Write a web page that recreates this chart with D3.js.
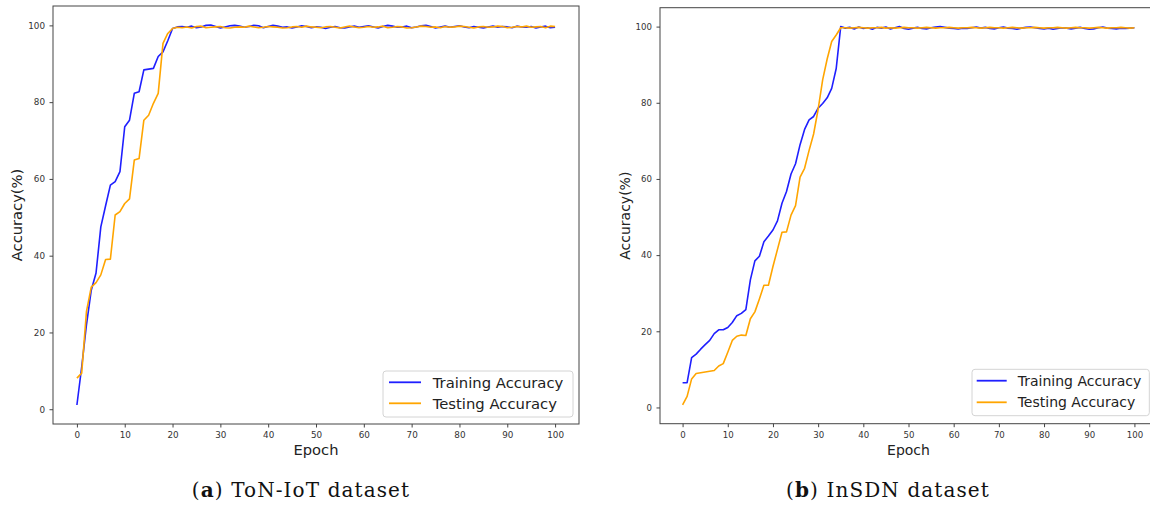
<!DOCTYPE html>
<html><head><meta charset="utf-8">
<script src="https://cdn.jsdelivr.net/npm/d3@7"></script>
<style>body{margin:0;background:#fff}svg{display:block}</style>
</head><body>
<svg id="c" width="1150" height="507"></svg>
<script>
const epochs = d3.range(0, 101);
const xTicks = [0, 10, 20, 30, 40, 50, 60, 70, 80, 90, 100];
const yTicks = [0, 20, 40, 60, 80, 100];
const seriesNames = ["Training Accuracy", "Testing Accuracy"];
const seriesColors = ["#1f1fff", "#ffa500"];
const xLabel = "Epoch";
const yLabel = "Accuracy(%)";

// (a) ToN-IoT dataset
const tonTrain = [1.1, 11, 22, 31, 35.5, 47.5, 53, 58.4, 59.3, 61.9, 73.6, 75.3, 82.3, 82.7, 88.4, 88.6, 88.8, 91.9, 93.1, 96.0, 99.2,
  99.6, 99.7, 99.5, 99.8, 99.4, 99.6, 100.0, 100.1, 99.7, 99.3,
  99.6, 99.9, 100.0, 99.8, 99.5, 99.7, 100.0, 99.9, 99.4, 99.7,
  100.0, 99.8, 99.5, 99.6, 99.3, 99.6, 99.9, 99.7, 99.4, 99.6,
  99.5, 99.2, 99.5, 99.7, 99.4, 99.3, 99.6, 99.8, 99.5, 99.7,
  99.9, 99.6, 99.3, 99.7, 100.0, 99.8, 99.5, 99.6, 99.8, 99.4,
  99.6, 99.9, 100.0, 99.7, 99.3, 99.6, 99.8, 99.5, 99.7, 99.9,
  99.6, 99.4, 99.7, 99.5, 99.3, 99.6, 99.8, 99.5, 99.7, 99.6,
  99.4, 99.8, 99.6, 99.5, 99.7, 99.3, 99.6, 99.8, 99.4, 99.5];
const tonTest = [8.1, 9.4, 25.5, 31.8, 33.0, 35, 39.0, 39.1, 50.6, 51.5, 53.6, 54.8, 64.9, 65.3, 75.3, 76.6, 79.7, 82.3, 95.3, 97.9, 99.2,
  99.5, 99.4, 99.6, 99.3, 99.7, 99.8, 99.4, 99.5, 99.6, 99.7,
  99.4, 99.3, 99.5, 99.6, 99.5, 99.8, 99.6, 99.4, 99.5, 99.7,
  99.6, 99.5, 99.3, 99.4, 99.6, 99.7, 99.5, 99.8, 99.6, 99.5,
  99.4, 99.6, 99.7, 99.5, 99.3, 99.6, 99.8, 99.6, 99.4, 99.5,
  99.7, 99.5, 99.6, 99.8, 99.4, 99.5, 99.7, 99.6, 99.3, 99.4,
  99.6, 99.8, 99.7, 99.5, 99.6, 99.4, 99.7, 99.5, 99.6, 99.8,
  99.7, 99.5, 99.3, 99.6, 99.7, 99.5, 99.6, 99.8, 99.7, 99.4,
  99.5, 99.7, 99.6, 99.8, 99.5, 99.6, 99.7, 99.4, 99.8, 99.7];

// (b) InSDN dataset
const insTrain = [6.5, 6.5, 13.1, 14.0, 15.3, 16.5, 17.6, 19.4, 20.4, 20.4, 21.0, 22.3, 24.1, 24.7, 25.7, 33.5, 38.5, 39.7, 43.5, 45.0,
  46.6, 49.0, 53.6, 56.7, 61.3, 64.0, 69.0, 73.0, 75.5, 76.4, 78.6, 79.8, 81.3, 83.8, 89.0, 100.0,
  99.6, 99.8, 99.4, 99.9, 99.5, 99.7, 99.3, 99.8, 99.6, 99.9,
  99.4, 99.7, 100.0, 99.5, 99.3, 99.6, 99.8, 99.5, 99.4, 99.7,
  99.9, 100.0, 99.8, 99.6, 99.5, 99.4, 99.6, 99.5, 99.7, 99.9,
  99.6, 99.8, 99.5, 99.4, 99.7, 99.9, 99.6, 99.5, 99.3, 99.6,
  99.8, 99.9, 99.7, 99.5, 99.4, 99.6, 99.3, 99.5, 99.7, 99.6,
  99.4, 99.6, 99.8, 99.5, 99.3, 99.4, 99.7, 99.9, 99.6, 99.5,
  99.4, 99.6, 99.5, 99.6, 99.7];
const insTest = [0.7, 2.9, 7.5, 8.9, 9.1, 9.3, 9.5, 9.7, 10.9, 11.5, 14.5, 17.6, 18.7, 19.0, 18.9, 23.3, 25.1, 28.5, 32.1, 32.1,
  37.0, 41.5, 46.0, 46.1, 50.5, 53.0, 60.5, 62.8, 67.5, 71.8, 78.3, 86.0, 91.5, 96.1, 97.8, 99.7,
  99.7, 99.6, 99.7, 99.8, 99.7, 99.6, 99.7, 99.7, 99.8, 99.6,
  99.7, 99.6, 99.7, 99.8, 99.7, 99.7, 99.6, 99.7, 99.8, 99.7,
  99.6, 99.7, 99.7, 99.8, 99.7, 99.6, 99.7, 99.7, 99.8, 99.7,
  99.6, 99.7, 99.8, 99.7, 99.7, 99.6, 99.7, 99.8, 99.7, 99.6,
  99.7, 99.7, 99.8, 99.7, 99.6, 99.7, 99.7, 99.8, 99.7, 99.6,
  99.7, 99.8, 99.7, 99.7, 99.6, 99.7, 99.8, 99.7, 99.6, 99.7,
  99.7, 99.8, 99.7, 99.6, 99.7];

const captionLetters = ["a", "b"];
const captionTexts = [" ToN-IoT dataset", " InSDN dataset"];

const svg = d3.select("#c");

function mplDomain(vals) {
  const lo = d3.min(vals), hi = d3.max(vals), p = (hi - lo) * 0.05;
  return [lo - p, hi + p];
}

function panel(cfg) {
  const g = svg.append("g");
  const x = d3.scaleLinear().domain(mplDomain(epochs)).range([cfg.x0, cfg.x1]);
  const y = d3.scaleLinear().domain(mplDomain(cfg.train.concat(cfg.test))).range([cfg.y1, cfg.y0]);

  const clipId = "clip" + cfg.id;
  g.append("clipPath").attr("id", clipId).append("rect")
    .attr("x", cfg.x0).attr("y", cfg.y0).attr("width", cfg.x1 - cfg.x0).attr("height", cfg.y1 - cfg.y0);

  const line = d3.line().x((d, i) => x(epochs[i])).y(d => y(d));
  [cfg.train, cfg.test].forEach((s, k) => {
    g.append("path").datum(s).attr("d", line)
      .attr("fill", "none").attr("stroke", seriesColors[k]).attr("stroke-width", 1.6)
      .attr("stroke-linejoin", "round").attr("clip-path", `url(#${clipId})`);
  });

  const xa = g.append("g").attr("transform", `translate(0,${cfg.y1})`)
    .call(d3.axisBottom(x).tickValues(xTicks).tickSize(3.5).tickPadding(4.5));
  const ya = g.append("g").attr("transform", `translate(${cfg.x0},0)`)
    .call(d3.axisLeft(y).tickValues(yTicks).tickSize(3.5).tickPadding(4.5));
  [xa, ya].forEach(a => {
    a.select(".domain").remove();
    a.selectAll("line").attr("stroke", "#444");
    a.selectAll("text").attr("fill", "#333").attr("font-family", "DejaVu Sans").attr("font-size", cfg.tickFont);
  });

  g.append("rect").attr("x", cfg.x0).attr("y", cfg.y0).attr("width", cfg.x1 - cfg.x0).attr("height", cfg.y1 - cfg.y0)
    .attr("fill", "none").attr("stroke", "#444").attr("stroke-width", 1);

  g.append("text").attr("x", (cfg.x0 + cfg.x1) / 2).attr("y", cfg.xLabelY)
    .attr("text-anchor", "middle").attr("font-family", "DejaVu Sans").attr("font-size", cfg.labelFont)
    .attr("fill", "#222").text(xLabel);
  g.append("text").attr("transform", `translate(${cfg.yLabelX},${(cfg.y0 + cfg.y1) / 2}) rotate(-90)`)
    .attr("text-anchor", "middle").attr("dy", "0.35em").attr("font-family", "DejaVu Sans").attr("font-size", cfg.labelFont)
    .attr("fill", "#222").text(yLabel);

  const L = cfg.legend;
  const lg = g.append("g");
  lg.append("rect").attr("x", L.x).attr("y", L.y).attr("width", L.w).attr("height", L.h).attr("rx", 3)
    .attr("fill", "#fff").attr("fill-opacity", 0.9).attr("stroke", "#d4d4d4");
  seriesNames.forEach((name, k) => {
    lg.append("line").attr("x1", L.lx0).attr("x2", L.lx1).attr("y1", L.rowY[k]).attr("y2", L.rowY[k])
      .attr("stroke", seriesColors[k]).attr("stroke-width", 1.8);
    lg.append("text").attr("x", L.tx).attr("y", L.rowY[k]).attr("dy", "0.36em")
      .attr("font-family", "DejaVu Sans").attr("font-size", L.font).attr("fill", "#222").text(name);
  });

  const cap = g.append("text").attr("x", cfg.capX).attr("y", 496.5).attr("text-anchor", "middle")
    .attr("font-family", "DejaVu Serif").attr("font-size", 20).attr("letter-spacing", 1.1).attr("fill", "#111");
  cap.append("tspan").text("(");
  cap.append("tspan").attr("font-weight", "bold").text(captionLetters[cfg.id]);
  cap.append("tspan").text(")" + captionTexts[cfg.id]);
}

panel({ id: 0, train: tonTrain, test: tonTest, x0: 53, x1: 579, y0: 6, y1: 424,
  tickFont: 8.8, labelFont: 14.7, xLabelY: 455, yLabelX: 17, capX: 301,
  legend: { x: 383, y: 371, w: 190, h: 46, lx0: 389, lx1: 421, tx: 432.7, rowY: [382.3, 403.3], font: 14.8 } });
panel({ id: 1, train: insTrain, test: insTest, x0: 660, x1: 1157, y0: 7.7, y1: 423.7,
  tickFont: 8.6, labelFont: 14, xLabelY: 455, yLabelX: 625, capX: 888,
  legend: { x: 972, y: 369.3, w: 177.3, h: 46.4, lx0: 976.7, lx1: 1006.7, tx: 1017.7, rowY: [380.7, 402.3], font: 14 } });
</script>
</body></html>
